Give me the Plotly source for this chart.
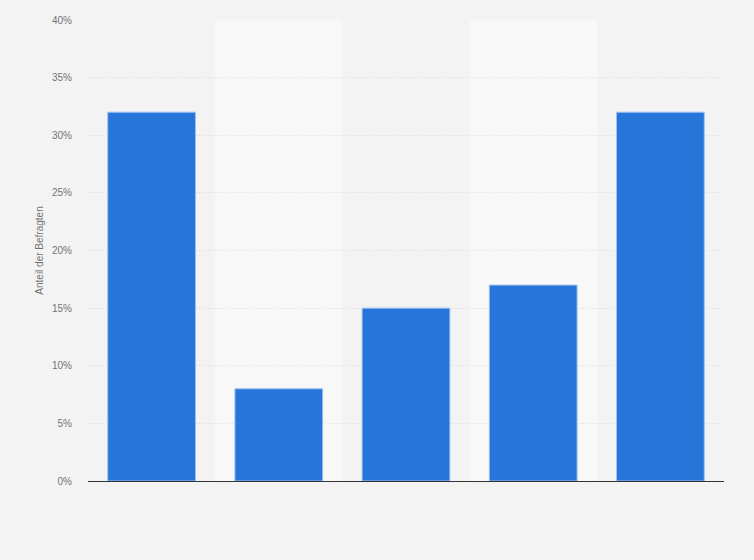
import plotly.graph_objects as go

# Data (category labels are not shown in the picture)
categories = ['Kategorie 1', 'Kategorie 2', 'Kategorie 3', 'Kategorie 4', 'Kategorie 5']
shares = [32, 8, 15, 17, 32]
y_ticks = [0, 5, 10, 15, 20, 25, 30, 35, 40]
y_tick_labels = [f'{v}%' for v in y_ticks]

bar_color = '#2775d9'
bg_color = '#f3f3f3'
band_color = '#f8f8f8'

fig = go.Figure()
fig.add_trace(go.Bar(x=categories, y=shares,
                     marker_color=bar_color,
                     marker_line=dict(color='#9cc3f0', width=1),
                     width=0.69,
                     hovertemplate='%{y}%<extra></extra>'))

# alternating light column bands behind the bars
for i, cat in enumerate(categories):
    if i % 2 == 1:
        fig.add_shape(type='rect', xref='x', yref='paper',
                      x0=i - 0.5, x1=i + 0.5, y0=0, y1=1,
                      fillcolor=band_color, line_width=0, layer='below')

fig.update_layout(
    width=754, height=560,
    margin=dict(l=88, r=30, t=20, b=79),
    paper_bgcolor=bg_color, plot_bgcolor=bg_color,
    font=dict(family='Arial, Liberation Sans, sans-serif', size=10, color='#737373'),
    showlegend=False, bargap=0.31,
)
fig.update_xaxes(showticklabels=False, showgrid=False, zeroline=False,
                 showline=False, range=[-0.5, len(categories) - 0.5])
fig.update_yaxes(range=[0, 40], tickvals=y_ticks, ticktext=y_tick_labels,
                 showgrid=True, gridcolor='#d9d9d9', griddash='1px,2px', gridwidth=1,
                 zeroline=True, zerolinecolor='#333333', zerolinewidth=1,
                 ticks='', ticklabelstandoff=15,
                 title=dict(text='Anteil der Befragten', font=dict(size=10, color='#737373'),
                            standoff=6))

# drop the page's default body margin so the chart fills the window
fig.write_html("out.html", config={'displayModeBar': False},
               post_script="document.body.style.margin='0';")
